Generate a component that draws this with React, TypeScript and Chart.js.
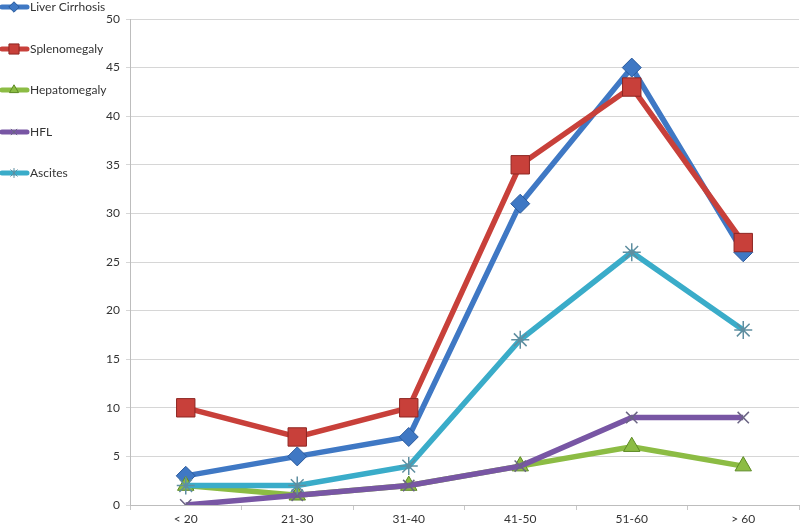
import React, { useEffect, useRef } from "react";
import { Chart, registerables } from "chart.js";

Chart.register(...registerables);

const categories = ["< 20", "21-30", "31-40", "41-50", "51-60", "> 60"];
const liverCirrhosis = [3, 5, 7, 31, 45, 26];
const splenomegaly = [10, 7, 10, 35, 43, 27];
const hepatomegaly = [2, 1, 2, 4, 6, 4];
const hfl = [0, 1, 2, 4, 9, 9];
const ascites = [2, 2, 4, 17, 26, 18];
const seriesNames = ["Liver Cirrhosis", "Splenomegaly", "Hepatomegaly", "HFL", "Ascites"];

const FONT = "Lato, 'Liberation Sans', sans-serif";
const TEXT = "#333333";

const styles = [
  { color: "#3f78c4", border: "#2a5a9c", point: "rectRot", radius: 9.5 },
  { color: "#c8403a", border: "#8e2622", point: "rect", radius: 13 },
  { color: "#8cbc44", border: "#5d8a25", point: "triangle", radius: 9.5 },
  { color: "#7856a4", border: "#6b6584", point: "crossRot", radius: 8 },
  { color: "#3aacc9", border: "#5f8ea0", point: "star", radius: 9 },
];

function drawMarker(ctx: CanvasRenderingContext2D, kind: string, x: number, y: number, r: number, fill: string, stroke: string) {
  ctx.save();
  ctx.fillStyle = fill;
  ctx.strokeStyle = stroke;
  ctx.lineWidth = 1;
  ctx.beginPath();
  if (kind === "rectRot") {
    ctx.moveTo(x, y - r);
    ctx.lineTo(x + r, y);
    ctx.lineTo(x, y + r);
    ctx.lineTo(x - r, y);
    ctx.closePath();
    ctx.fill();
    ctx.stroke();
  } else if (kind === "rect") {
    const s = r * Math.SQRT1_2;
    ctx.rect(x - s, y - s, 2 * s, 2 * s);
    ctx.fill();
    ctx.stroke();
  } else if (kind === "triangle") {
    ctx.moveTo(x, y - r);
    ctx.lineTo(x + r * 0.866, y + r * 0.5);
    ctx.lineTo(x - r * 0.866, y + r * 0.5);
    ctx.closePath();
    ctx.fill();
    ctx.stroke();
  } else if (kind === "crossRot") {
    const s = r * Math.SQRT1_2;
    ctx.moveTo(x - s, y - s);
    ctx.lineTo(x + s, y + s);
    ctx.moveTo(x - s, y + s);
    ctx.lineTo(x + s, y - s);
    ctx.stroke();
  } else if (kind === "star") {
    const s = r * Math.SQRT1_2;
    ctx.moveTo(x - s, y - s);
    ctx.lineTo(x + s, y + s);
    ctx.moveTo(x - s, y + s);
    ctx.lineTo(x + s, y - s);
    ctx.moveTo(x, y - r);
    ctx.lineTo(x, y + r);
    ctx.stroke();
  }
  ctx.restore();
}

const legendPlugin = {
  id: "leftLegend",
  afterDraw(chart: any) {
    const ctx = chart.ctx as CanvasRenderingContext2D;
    const ys = [7, 49, 90, 132, 173];
    seriesNames.forEach((name, i) => {
      const st = styles[i];
      const y = ys[i];
      ctx.save();
      ctx.strokeStyle = st.color;
      ctx.lineWidth = 5;
      ctx.lineCap = "round";
      ctx.beginPath();
      ctx.moveTo(2, y);
      ctx.lineTo(27, y);
      ctx.stroke();
      ctx.restore();
      drawMarker(ctx, st.point, 14, y, Math.max(4, st.radius * 0.55), st.color, st.border);
      ctx.save();
      ctx.fillStyle = TEXT;
      ctx.font = `12px ${FONT}`;
      ctx.textAlign = "left";
      ctx.textBaseline = "middle";
      ctx.fillText(name, 30, y);
      ctx.restore();
    });
  },
};

export default function App() {
  const ref = useRef<HTMLCanvasElement | null>(null);
  useEffect(() => {
    if (!ref.current) return;
    const seriesData = [liverCirrhosis, splenomegaly, hepatomegaly, hfl, ascites];
    const chart = new Chart(ref.current, {
      type: "line",
      data: {
        labels: categories,
        datasets: seriesNames.map((name, i) => ({
          label: name,
          data: seriesData[i],
          borderColor: styles[i].color,
          backgroundColor: styles[i].color,
          borderWidth: 5.5,
          tension: 0,
          pointStyle: styles[i].point as any,
          pointRadius: styles[i].radius,
          pointBackgroundColor: styles[i].color,
          pointBorderColor: styles[i].border,
          pointBorderWidth: i >= 3 ? 1.5 : 1,
          order: 5 - i,
        })),
      },
      options: {
        responsive: false,
        animation: false,
        layout: { autoPadding: false, padding: { top: 19, right: 1, left: 0, bottom: 0 } },
        plugins: {
          legend: { display: false },
          tooltip: { enabled: false },
        },
        scales: {
          x: {
            offset: true,
            afterFit: (s: any) => {
              s.height = 21;
              s.paddingLeft = 0;
              s.paddingRight = 0;
            },
            grid: {
              offset: true,
              drawOnChartArea: false,
              drawTicks: true,
              tickLength: 5,
              color: "#c8c8c8",
            },
            border: { color: "#bdbdbd" },
            ticks: { color: TEXT, font: { family: FONT, size: 12 }, padding: 2, maxRotation: 0 },
          },
          y: {
            min: 0,
            max: 50,
            afterFit: (s: any) => {
              s.width = 130;
            },
            ticks: { stepSize: 5, color: TEXT, font: { family: FONT, size: 12 }, padding: 6 },
            grid: { color: "#d6d6d6", tickLength: 4 },
            border: { color: "#bdbdbd" },
          },
        },
      },
      plugins: [legendPlugin],
    });
    return () => chart.destroy();
  }, []);
  return (
    <div style={{ position: "fixed", left: 0, top: 0, width: 800, height: 526, background: "#fff" }}>
      <canvas ref={ref} width={800} height={526} style={{ display: "block" }} />
    </div>
  );
}
